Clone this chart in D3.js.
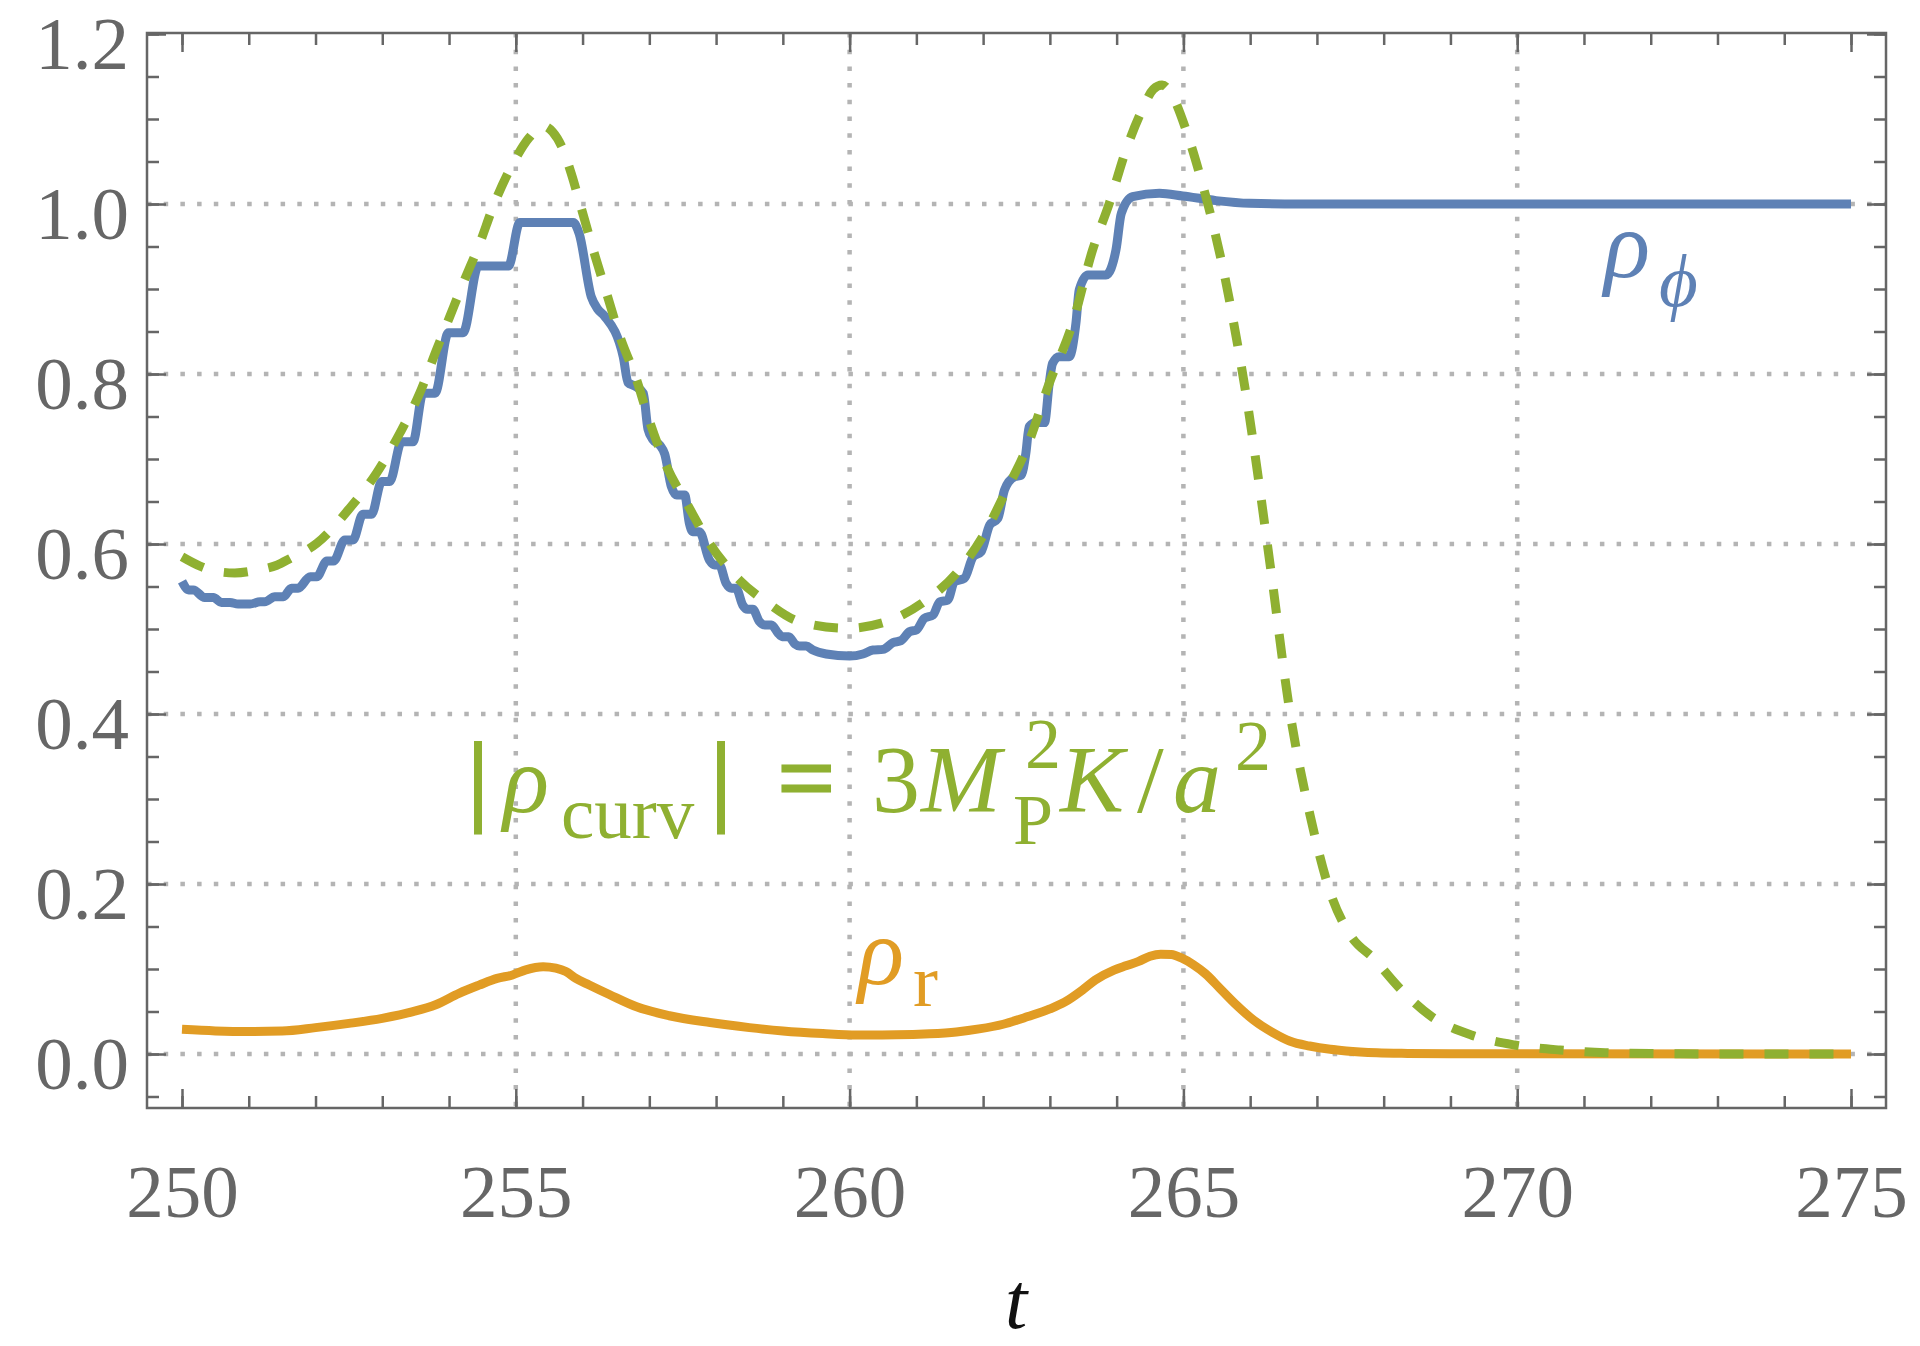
<!DOCTYPE html>
<html><head><meta charset="utf-8">
<script src="https://cdn.jsdelivr.net/npm/d3@7"></script>
<style>body{margin:0;background:#fff}</style>
</head><body><svg id="c" width="1920" height="1346"></svg>
<script>
// ---------- data ----------
const xMajor=[250,255,260,265,270,275];
const xLabels=["250","255","260","265","270","275"];
const xMinor=[250,251,252,253,254,255,256,257,258,259,260,261,262,263,264,265,266,267,268,269,270,271,272,273,274,275];
const yMajor=[0,0.2,0.4,0.6,0.8,1.0,1.2];
const yLabels=["0.0","0.2","0.4","0.6","0.8","1.0","1.2"];
const yMinor=[-0.05,0,0.05,0.1,0.15,0.2,0.25,0.3,0.35,0.4,0.45,0.5,0.55,0.6,0.65,0.7,0.75,0.8,0.85,0.9,0.95,1.0,1.05,1.1,1.15,1.2];
const xGrid=[255,260,265,270];
const yGrid=[0,0.2,0.4,0.6,0.8,1.0];

const rhoPhi=[[250.00,0.556],[250.10,0.546],[250.17,0.546],[250.34,0.537],[250.47,0.537],[250.59,0.5313],[250.72,0.5313],
[250.84,0.5294],[251.02,0.5294],[251.17,0.532],[251.24,0.532],[251.39,0.538],[251.52,0.538],[251.64,0.548],[251.74,0.548],
[251.92,0.5616],[252.02,0.5616],[252.17,0.580],[252.27,0.580],[252.44,0.6047],[252.56,0.6047],[252.71,0.635],[252.84,0.635],
[252.99,0.6734],[253.11,0.6734],[253.29,0.7204],[253.46,0.7204],[253.61,0.7773],[253.79,0.7773],[253.99,0.8486],[254.21,0.8486],
[254.44,0.9271],[254.89,0.9271],[255.06,0.9781],[255.86,0.9781],[255.95,0.965],[256.13,0.891],[256.23,0.876],[256.33,0.868],
[256.61,0.820],[256.68,0.790],[256.78,0.786],[256.91,0.7773],[256.98,0.735],[257.06,0.722],[257.16,0.716],[257.23,0.706],
[257.33,0.6675],[257.41,0.6576],[257.53,0.6576],[257.60,0.6243],[257.65,0.6145],[257.75,0.6145],[257.90,0.581],[257.98,0.5753],
[258.05,0.5753],[258.15,0.5537],[258.23,0.5478],[258.30,0.5478],[258.40,0.528],[258.47,0.5231],[258.55,0.5231],[258.65,0.5086],
[258.73,0.5047],[258.83,0.5047],[258.93,0.495],[258.99,0.491],[259.09,0.491],[259.18,0.4824],[259.25,0.480],[259.35,0.480],
[259.45,0.4753],[259.65,0.4706],[260.0,0.4682],[260.20,0.4706],[260.35,0.4753],[260.5,0.476],[260.65,0.484],[260.77,0.4863],
[260.90,0.4969],[261.0,0.4988],[261.12,0.5126],[261.25,0.5165],[261.35,0.532],[261.47,0.534],[261.57,0.5557],[261.72,0.5596],
[261.85,0.585],[261.97,0.591],[262.10,0.6224],[262.22,0.630],[262.32,0.6635],[262.47,0.679],[262.57,0.681],[262.64,0.7067],
[262.69,0.738],[262.79,0.7428],[262.92,0.7428],[262.99,0.789],[263.04,0.8125],[263.14,0.8204],[263.29,0.8204],[263.39,0.8596],
[263.44,0.899],[263.57,0.9165],[263.84,0.9165],[263.99,0.946],[264.07,0.989],[264.24,1.0086],[264.64,1.0126],[264.99,1.0094],
[265.49,1.004],[265.99,1.0008],[266.74,1.0],[275,1.0]];

const rhoR=[[250.0,0.029],[250.5,0.0272],[251.0,0.0265],[251.5,0.027],[252.0,0.031],[252.5,0.036],[253.0,0.042],[253.46,0.0498],
[253.8,0.058],[254.15,0.0714],[254.45,0.081],[254.72,0.089],[254.95,0.093],[255.15,0.099],[255.41,0.1027],[255.6,0.101],
[255.75,0.097],[255.9,0.089],[256.1,0.0812],[256.4,0.07],[256.81,0.0555],[257.3,0.045],[257.91,0.037],[258.5,0.031],
[259.0,0.027],[259.6,0.024],[260.11,0.0224],[260.7,0.0226],[261.2,0.0238],[261.6,0.026],[261.94,0.0295],[262.3,0.035],
[262.67,0.044],[263.0,0.053],[263.22,0.061],[263.5,0.076],[263.68,0.087],[263.96,0.0987],[264.15,0.104],[264.33,0.109],
[264.5,0.115],[264.66,0.1174],[264.82,0.117],[264.97,0.113],[265.15,0.105],[265.33,0.0944],[265.55,0.077],[265.79,0.058],
[266.05,0.04],[266.34,0.0252],[266.6,0.015],[266.89,0.0094],[267.2,0.0055],[267.44,0.0036],[267.9,0.0015],[268.36,0.0007],
[269.0,0.0002],[275,0]];

const rhoCurv=[[250.0,0.585],[250.27,0.574],[250.5,0.568],[250.79,0.566],[251.1,0.569],[251.42,0.575],[251.62,0.583],[252.02,0.6008],
[252.51,0.642],[252.91,0.683],[253.26,0.730],[253.56,0.7773],[253.81,0.828],[254.01,0.8674],[254.21,0.9067],[254.46,0.9537],
[254.66,0.9968],[254.96,1.048],[255.2,1.078],[255.40,1.092],[255.55,1.085],[255.71,1.0635],[255.83,1.036],[255.96,1.0008],
[256.16,0.946],[256.36,0.895],[256.56,0.844],[256.81,0.793],[256.98,0.75],[257.26,0.691],[257.56,0.648],[257.90,0.601],
[258.35,0.5576],[258.75,0.532],[259.25,0.5086],[259.95,0.5008],[260.55,0.5086],[261.15,0.534],[261.6,0.5655],[262.05,0.6165],
[262.35,0.6635],[262.64,0.7106],[262.99,0.789],[263.34,0.8596],[263.64,0.946],[263.89,1.0008],[264.14,1.0635],[264.37,1.1086],
[264.55,1.135],[264.68,1.14],[264.84,1.1263],[265.04,1.087],[265.24,1.036],[265.44,0.977],[265.64,0.9067],[265.79,0.844],
[265.94,0.775],[266.1,0.69],[266.3,0.575],[266.6,0.40],[266.9,0.28],[267.2,0.19],[267.5,0.14],[267.86,0.1115],[268.22,0.079],
[268.72,0.0439],[269.31,0.0224],[269.96,0.0106],[270.64,0.0047],[271.32,0.0015],[272.0,0.0005],[273.0,0.0001],[275,0]];

// ---------- layout ----------
const svg=d3.select('#c');
svg.append('rect').attr('width',1920).attr('height',1346).attr('fill','#fff');
const x=d3.scaleLinear().domain([250,275]).range([182,1851]);
const y=d3.scaleLinear().domain([0,1]).range([1054,204]);
const fl=147, fr=1886, ft=33, fb=1108;
const axisColor='#666';
const serif='"Liberation Serif","DejaVu Serif",serif';

// grid
const grid=svg.append('g').attr('stroke','#b4b4b4').attr('stroke-width',4.5).attr('stroke-dasharray','4.5,12.2');
grid.selectAll('.gx').data(xGrid).join('line').attr('x1',d=>x(d)).attr('x2',d=>x(d)).attr('y1',ft).attr('y2',fb);
grid.selectAll('.gy').data(yGrid).join('line').attr('y1',d=>y(d)).attr('y2',d=>y(d)).attr('x1',fl).attr('x2',fr);

// ticks via axes
function styleAxis(s){s.select('.domain').remove();s.selectAll('line').attr('stroke',axisColor).attr('stroke-width',2.5);}
const tk=svg.append('g');
[[xMinor,12],[xMajor,19]].forEach(([v,len])=>{
  tk.append('g').attr('transform',`translate(0,${fb})`).call(d3.axisBottom(x).tickValues(v).tickSize(-len).tickFormat('')).call(styleAxis);
  tk.append('g').attr('transform',`translate(0,${ft})`).call(d3.axisTop(x).tickValues(v).tickSize(-len).tickFormat('')).call(styleAxis);
});
[[yMinor,12],[yMajor,19]].forEach(([v,len])=>{
  tk.append('g').attr('transform',`translate(${fl},0)`).call(d3.axisLeft(y).tickValues(v).tickSize(-len).tickFormat('')).call(styleAxis);
  tk.append('g').attr('transform',`translate(${fr},0)`).call(d3.axisRight(y).tickValues(v).tickSize(-len).tickFormat('')).call(styleAxis);
});

// frame
svg.append('rect').attr('x',fl).attr('y',ft).attr('width',fr-fl).attr('height',fb-ft)
  .attr('fill','none').attr('stroke',axisColor).attr('stroke-width',2.5);

// tick labels
const xl=svg.append('g').attr('transform',`translate(0,${fb})`)
  .call(d3.axisBottom(x).tickValues(xMajor).tickSize(0).tickFormat((d,i)=>xLabels[i]));
xl.select('.domain').remove();
xl.selectAll('text').attr('y',109).attr('dy',null).attr('font-family',serif).attr('font-size',75).attr('fill',axisColor);
const yl=svg.append('g').attr('transform',`translate(129,0)`)
  .call(d3.axisLeft(y).tickValues(yMajor).tickSize(0).tickPadding(0).tickFormat((d,i)=>yLabels[i]));
yl.select('.domain').remove();
yl.selectAll('text').attr('x',0).attr('dy',null).attr('y',34).attr('font-family',serif).attr('font-size',75).attr('fill',axisColor);

// axis label
svg.append('text').attr('x',1016).attr('y',1328).attr('text-anchor','middle').attr('font-family',serif)
  .attr('font-style','italic').attr('font-size',80).attr('fill','#111').text('t');

// curves
const line=d3.line().x(d=>x(d[0])).y(d=>y(d[1])).curve(d3.curveMonotoneX);
const blue='#5E81B5', orange='#E19C24', green='#8FB031';
svg.append('path').datum(rhoPhi).attr('d',line).attr('fill','none').attr('stroke',blue).attr('stroke-width',9).attr('stroke-linejoin','round');
svg.append('path').datum(rhoR).attr('d',line).attr('fill','none').attr('stroke',orange).attr('stroke-width',9).attr('stroke-linejoin','round');
svg.append('path').datum(rhoCurv).attr('d',line).attr('fill','none').attr('stroke',green).attr('stroke-width',9).attr('stroke-dasharray','24,21');

// annotations: one text element per label, pieces as tspans
function label(color,pieces){
  const t=svg.append('text').attr('font-family',serif).attr('fill',color);
  pieces.forEach(p=>{
    const s=t.append('tspan').attr('x',p.x).attr('y',p.y).attr('font-size',p.size)
      .attr('font-style',p.it?'italic':'normal').text(p.s);
    if(p.thick) s.attr('stroke',color).attr('stroke-width',3);
  });
  return t;
}
label(blue,[{s:'ρ',x:1604,y:277,size:96,it:true},{s:'ϕ',x:1659,y:306,size:75,it:true}]);
label(orange,[{s:'ρ',x:858,y:984,size:96,it:true},{s:'r',x:913,y:1006,size:75}]);
label(green,[
  {s:'|',x:468,y:812,size:100,thick:true},
  {s:'ρ',x:503,y:812,size:96,it:true},
  {s:'curv',x:561,y:838,size:75},
  {s:'|',x:711,y:812,size:100,thick:true},
  {s:'=',x:778,y:812,size:100,thick:true},
  {s:'3',x:872,y:812,size:96},
  {s:'M',x:921,y:812,size:96,it:true},
  {s:'2',x:1025,y:768,size:72},
  {s:'P',x:1013,y:844,size:72},
  {s:'K',x:1060,y:812,size:96,it:true},
  {s:'/',x:1137,y:812,size:96},
  {s:'a',x:1173,y:812,size:96,it:true},
  {s:'2',x:1235,y:770,size:72}
]);
</script>
</body></html>
